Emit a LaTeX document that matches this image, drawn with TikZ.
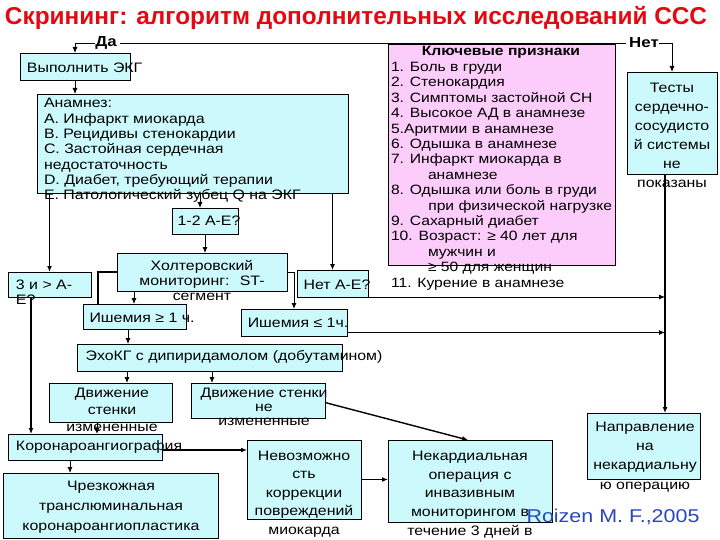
\documentclass[tikz,border=0pt]{standalone}
\usepackage{fontspec}
\setmainfont{Liberation Sans}[FakeStretch=1.16]
\newfontfamily\ttlfont{Liberation Sans}[FakeStretch=1.0]
\usetikzlibrary{arrows.meta}
\definecolor{cy}{RGB}{204,250,252}
\definecolor{pk}{RGB}{252,204,250}
\definecolor{ttl}{RGB}{228,8,18}
\definecolor{rz}{RGB}{40,70,190}
\newcommand\mkbox[6]{\node[#1, minimum width={(#5-#3)*1pt}, minimum height={(#6-#4)*1pt}] (#2) at ({(#3+#5)/2},{(#4+#6)/2}) {};}
\tikzset{
  cbox/.style={draw=black, line width=0.8pt, fill=cy, inner sep=0pt, outer sep=0pt},
  pbox/.style={draw=black, line width=0.8pt, fill=pk, inner sep=0pt, outer sep=0pt},
  txt/.style={inner sep=0pt, outer sep=0pt},
  thn/.style={line width=0.9pt},
  thk/.style={line width=1.8pt},
  arr/.style={-{Latex[length=6pt,width=5pt]}},
}
\begin{document}
\begin{tikzpicture}[x=1pt, y=-1pt, font=\fontsize{13.7}{15.3}\selectfont]
\useasboundingbox[fill=white] (0,0) rectangle (720,540);
% title
\node[txt, text=ttl] (title) at (356,18) {\resizebox{702pt}{!}{\ttlfont\bfseries Скрининг: алгоритм дополнительных исследований ССС}};
% yes / no labels
\node[txt, font=\fontsize{14.5}{16}\selectfont\bfseries, anchor=center] (da) at (106,43) {Да};
\node[txt, font=\fontsize{14.5}{16}\selectfont\bfseries, anchor=center] (net) at (644,43) {Нет};
\draw[thn] ([xshift=3pt]da.east) -- ([xshift=-3pt]net.west);
% boxes
\mkbox{cbox}{ekg}{20}{53}{130}{80}
\mkbox{cbox}{anam}{37}{94}{348}{193}
\mkbox{pbox}{keys}{388}{44}{615}{265}
\mkbox{cbox}{tests}{627}{72}{717}{174}
\mkbox{cbox}{qa}{172}{208}{238}{234}
\mkbox{cbox}{holter}{117}{253}{287}{291}
\mkbox{cbox}{three}{8}{272}{91}{297}
\mkbox{cbox}{netae}{297}{270}{368}{297}
\mkbox{cbox}{ischa}{83}{304}{186}{329}
\mkbox{cbox}{ischb}{241}{309}{347}{336}
\mkbox{cbox}{echo}{77}{344}{342}{371}
\mkbox{cbox}{dva}{49}{383}{172}{422}
\mkbox{cbox}{dvb}{191}{383}{325}{418}
\mkbox{cbox}{coro}{8}{434}{162}{460}
\mkbox{cbox}{ptca}{3}{473}{218}{538}
\mkbox{cbox}{nevoz}{247}{440}{361}{519}
\mkbox{cbox}{nekard}{388}{440}{552}{522}
\mkbox{cbox}{naprav}{587}{413}{700}{479}
% texts
\node[txt, anchor=west] (ekgT) at (27,68) {Выполнить ЭКГ};
\node[txt, anchor=west, align=left] (anamT) at (44,150.5) {Анамнез:\\А. Инфаркт миокарда\\В. Рецидивы стенокардии\\С. Застойная сердечная\\недостаточность\\D. Диабет, требующий терапии\\Е. Патологический зубец Q на ЭКГ};
\node[txt, font=\fontsize{13.5}{15}\selectfont\bfseries] (keysH) at (501,52) {Ключевые признаки};
\node[txt, anchor=west, align=left, font=\fontsize{13.5}{15.4}\selectfont] (keysT) at (391,176) {1. Боль в груди\\2. Стенокардия\\3. Симптомы застойной СН\\4. Высокое АД в анамнезе\\5.Аритмии в анамнезе\\6. Одышка в анамнезе\\7. Инфаркт миокарда в\\\hspace*{37pt}анамнезе\\8. Одышка или боль в груди\\\makebox[221pt][r]{при физической нагрузке}\\9. Сахарный диабет\\10. Возраст: ≥ 40 лет для\\\hspace*{37pt}мужчин и\\\hspace*{37pt}≥ 50 для женщин\\11. Курение в анамнезе};
\node[txt, align=center, font=\fontsize{13.7}{19}\selectfont] (testsT) at (672,135.5) {Тесты\\сердечно-\\сосудисто\\й системы\\не\\показаны};
\node[txt] (qaT) at (209,221) {1-2 А-Е?};
\node[txt, align=center, font=\fontsize{13.7}{15}\selectfont] (holterT) at (202,280) {Холтеровский\\мониторинг:~ ST-\\сегмент};
\node[txt, anchor=west, align=left, font=\fontsize{13.7}{15}\selectfont] (threeT) at (16,292.5) {3 и > А-\\Е?};
\node[txt] (netaeT) at (337,285) {Нет А-Е?};
\node[txt] (ischaT) at (142,318) {Ишемия ≥ 1 ч.};
\node[txt] (ischbT) at (298,323) {Ишемия ≤ 1ч.};
\node[txt] (echoT) at (234,357) {ЭхоКГ с дипиридамолом (добутамином)};
\node[txt, align=center, font=\fontsize{13.7}{17}\selectfont] (dvaT) at (112,410) {Движение\\стенки\\измененные};
\node[txt, align=center, font=\fontsize{13.7}{14}\selectfont] (dvbT) at (264,407) {Движение стенки\\не\\измененные};
\node[txt, anchor=west] (coroT) at (16,447) {Коронароангиография};
\node[txt, align=center, font=\fontsize{13.7}{20}\selectfont] (ptcaT) at (111,507) {Чрезкожная\\транслюминальная\\коронароангиопластика};
\node[txt, align=center, font=\fontsize{13.7}{18.5}\selectfont] (nevozT) at (304,494) {Невозможно\\сть\\коррекции\\повреждений\\миокарда};
\node[txt, align=center, font=\fontsize{13.7}{18.75}\selectfont] (nekardT) at (470,494.5) {Некардиальная\\операция с\\инвазивным\\мониторингом в\\течение 3 дней в};
\node[txt, align=center, font=\fontsize{13.7}{19.3}\selectfont] (napravT) at (645,457) {Направление\\на\\некардиальну\\ю операцию};
\node[txt, text=rz, font=\fontsize{18.5}{22}\selectfont] (roizen) at (613,517) {Roizen M. F.,2005};
% connectors
\coordinate (vx) at (665,0);
\draw[thn, arr] (da.west) -| (ekg.north);
\draw[thn, arr] (net.east) -| (tests.north);
\draw[thn, arr] (ekg.south) -- (ekg.south |- anam.north);
\draw[thn, arr] ([xshift=-5pt]qa.north |- anam.south) -- ([xshift=-5pt]qa.north);
\draw[thn, arr] (qa.south) -- (qa.south |- holter.north);
\draw[thk, arr] (three.north |- anam.south) -- (three.north);
\draw[thn, arr] (netae.north |- anam.south) -- (netae.north);
\draw[thk] (holter.west) -| ([xshift=-36.5pt]ischa.north);
\draw[thn, arr] ([xshift=-0.5pt]ischa.north |- holter.south) -- ([xshift=-0.5pt]ischa.north);
\draw[thn, arr] (holter.east) -| (ischb.north);
\draw[thk, arr] (tests.south -| vx) -- (naprav.north -| vx);
\draw[thn, arr] (netae.south east) -- (netae.south east -| vx);
\draw[thn, arr] ([yshift=-10pt]ischb.east) -- ([yshift=-10pt]ischb.east -| vx);
\draw[thn, arr] ([xshift=-6.5pt]ischa.south) -- ([xshift=-6.5pt]ischa.south |- echo.north);
\draw[thn, arr] ([xshift=16.5pt]dva.north |- echo.south) -- ([xshift=16.5pt]dva.north);
\draw[thn, arr] ([xshift=-46pt]dvb.north |- echo.south) -- ([xshift=-46pt]dvb.north);
\draw[thn, arr] ([xshift=-13.5pt]dva.south) -- ([xshift=-13.5pt]dva.south |- coro.north);
\draw[thk, arr] ([xshift=-18.5pt]three.south) -- ([xshift=-18.5pt]three.south |- coro.north);
\draw[thk, arr] ([yshift=-3pt]coro.east) -- ([yshift=-3pt]coro.east -| nevoz.west);
\draw[thn, arr] ([xshift=-15pt]coro.south) -- ([xshift=-15pt]coro.south |- ptca.north);
\draw[thk, arr] (nevoz.east) -- (nevoz.east -| nekard.west);
\draw[line width=1.4pt, arr] ([yshift=-2pt]dvb.east) -- ([xshift=-2pt]nekard.north);
\end{tikzpicture}
\end{document}
